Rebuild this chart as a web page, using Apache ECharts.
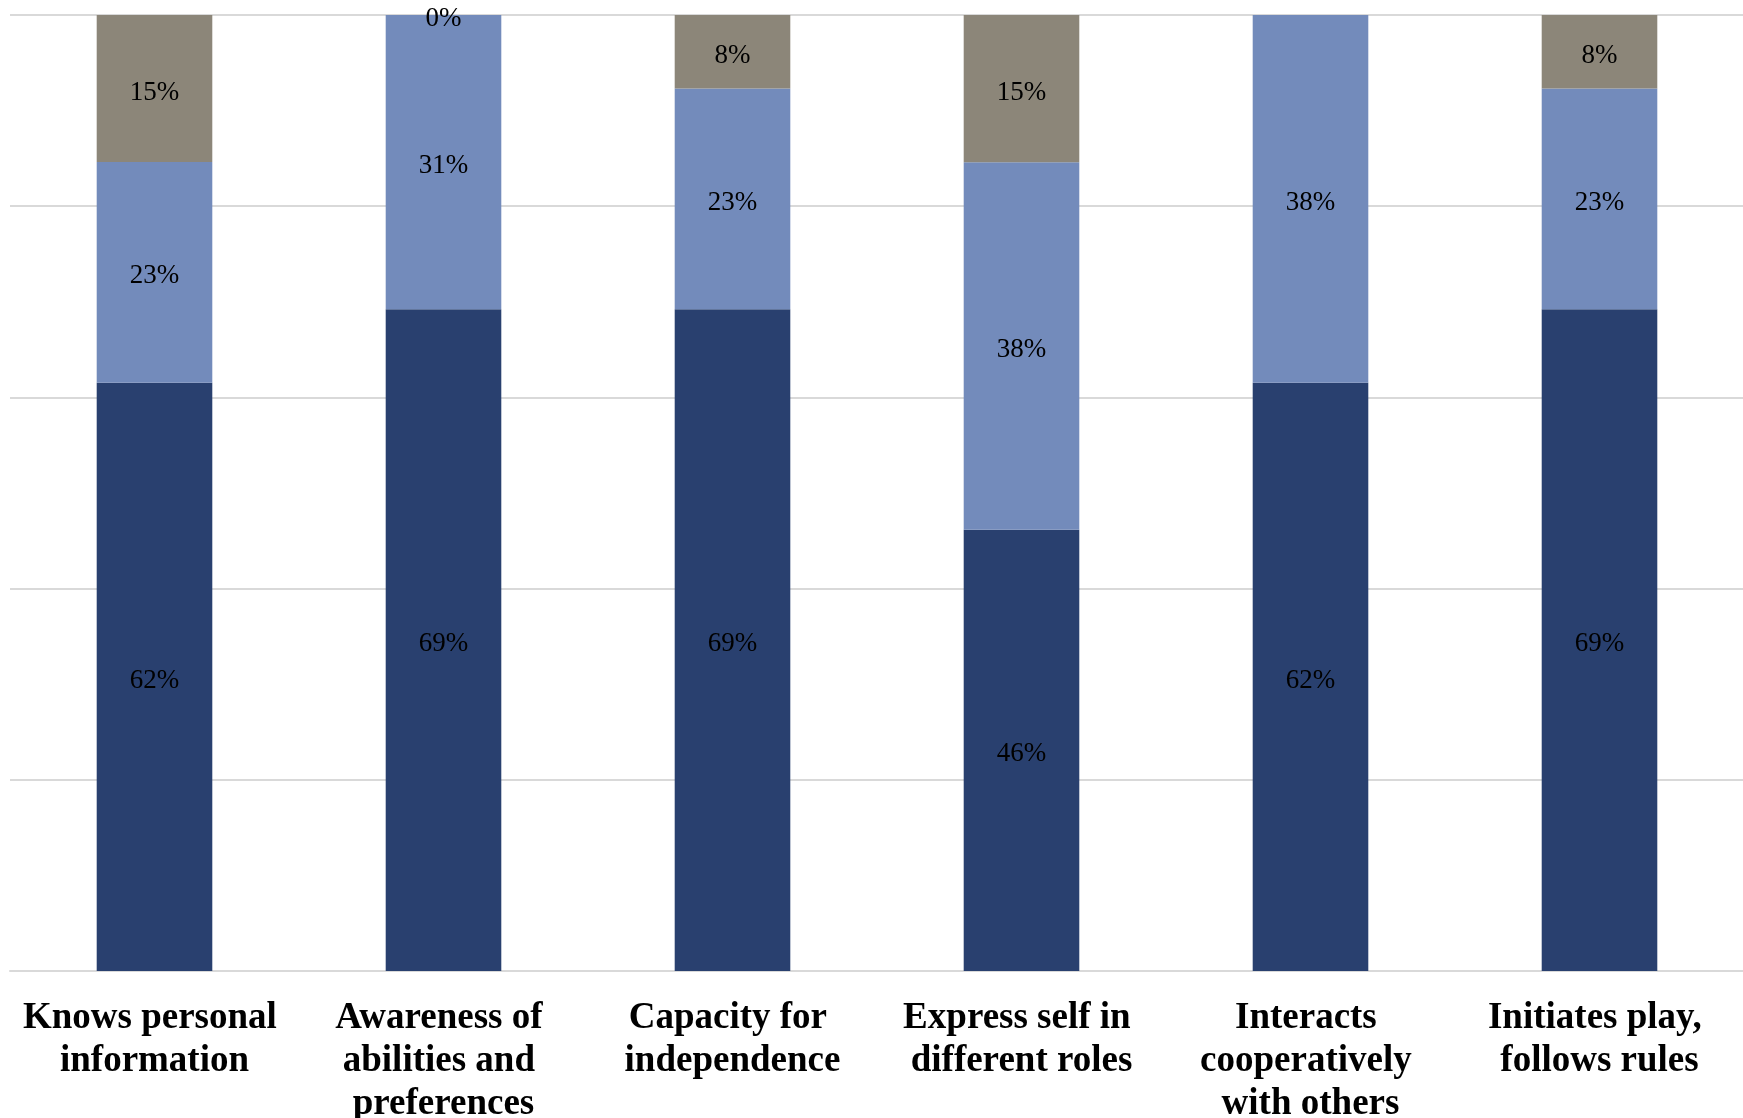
<!DOCTYPE html>
<html>
<head>
<meta charset="utf-8">
<script src="https://cdn.jsdelivr.net/npm/echarts@6/dist/echarts.min.js"></script>
<style>
  html, body { margin: 0; padding: 0; background: #ffffff; }
  #chart { width: 1743px; height: 1118px; }
</style>
</head>
<body>
<div id="chart"></div>
<script>
const categories = [
  'Knows personal information',
  'Awareness of abilities and preferences',
  'Capacity for independence',
  'Express self in different roles',
  'Interacts cooperatively with others',
  'Initiates play, follows rules'
];
const darkValues  = [61.54, 69.23, 69.23, 46.15, 61.54, 69.23];
const lightValues = [23.08, 30.77, 23.08, 38.46, 38.46, 23.08];
const greyValues  = [15.38, 0, 7.69, 15.38, null, 7.69];
const yTicks = [0, 20, 40, 60, 80, 100];

const chart = echarts.init(document.getElementById('chart'));
const labelStyle = {
  show: true,
  position: 'inside',
  offset: [0, 4],
  fontFamily: '"Liberation Serif", "Times New Roman", serif',
  fontSize: 27,
  color: '#000000',
  formatter: p => (p.value == null ? '' : Math.round(p.value) + '%')
};
function mk(name, data, color) {
  return {
    name, type: 'bar', stack: 'total', data,
    barWidth: '40%',
    itemStyle: { color },
    label: labelStyle,
    emphasis: { disabled: true }
  };
}
chart.setOption({
  animation: false,
  backgroundColor: '#ffffff',
  grid: { left: 10, right: -1, top: 15, bottom: 147, containLabel: false, outerBoundsMode: 'none' },
  xAxis: {
    type: 'category',
    data: categories,
    axisTick: { show: false },
    axisLine: { lineStyle: { color: '#d9d9d9', width: 2 } },
    axisLabel: {
      interval: 0,
      margin: 26,
      width: 265,
      overflow: 'break',
      fontFamily: '"Liberation Serif", "Times New Roman", serif',
      fontWeight: 'bold',
      fontSize: 37,
      lineHeight: 43,
      color: '#000000'
    }
  },
  yAxis: {
    type: 'value',
    min: yTicks[0],
    max: yTicks[yTicks.length - 1],
    interval: yTicks[1] - yTicks[0],
    axisLabel: { show: false },
    axisLine: { show: false },
    axisTick: { show: false },
    splitLine: { lineStyle: { color: '#d9d9d9', width: 2 } }
  },
  series: [
    mk('Dark', darkValues, '#29406F'),
    mk('Light', lightValues, '#738BBB'),
    mk('Grey', greyValues, '#8C8679')
  ]
});
</script>
</body>
</html>
